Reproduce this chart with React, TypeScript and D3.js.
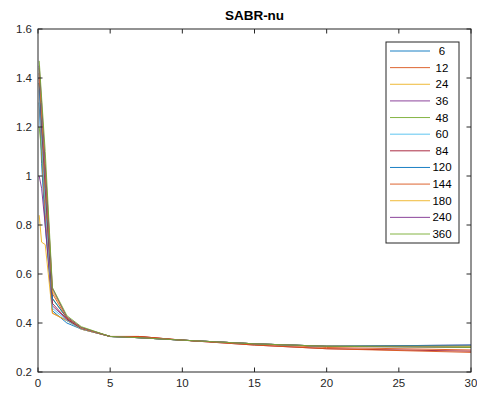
import React from "react";
import * as d3 from "d3";

const expiries = [0.083, 0.25, 0.5, 1, 2, 3, 5, 7, 10, 15, 20, 30];
const tenors = ["6", "12", "24", "36", "48", "60", "84", "120", "144", "180", "240", "360"];
const s6 = [1.30, 1.05, 0.80, 0.45, 0.40, 0.375, 0.345, 0.34, 0.33, 0.315, 0.305, 0.305];
const s12 = [1.38, 1.10, 0.85, 0.44, 0.41, 0.375, 0.345, 0.345, 0.33, 0.315, 0.30, 0.29];
const s24 = [0.84, 0.73, 0.72, 0.44, 0.41, 0.375, 0.345, 0.34, 0.33, 0.315, 0.305, 0.305];
const s36 = [1.00, 0.95, 0.80, 0.47, 0.415, 0.378, 0.345, 0.34, 0.33, 0.315, 0.305, 0.31];
const s48 = [1.20, 1.10, 0.90, 0.50, 0.42, 0.38, 0.345, 0.34, 0.33, 0.315, 0.305, 0.305];
const s60 = [1.35, 1.15, 0.90, 0.46, 0.41, 0.376, 0.345, 0.34, 0.33, 0.315, 0.305, 0.305];
const s84 = [1.40, 1.20, 0.95, 0.48, 0.415, 0.378, 0.345, 0.345, 0.33, 0.31, 0.295, 0.285];
const s120 = [1.38, 1.22, 1.00, 0.50, 0.42, 0.38, 0.345, 0.34, 0.33, 0.315, 0.305, 0.31];
const s144 = [1.42, 1.25, 1.00, 0.52, 0.42, 0.38, 0.345, 0.345, 0.33, 0.31, 0.295, 0.28];
const s180 = [1.44, 1.28, 1.05, 0.53, 0.425, 0.38, 0.345, 0.34, 0.33, 0.315, 0.305, 0.305];
const s240 = [1.45, 1.30, 1.05, 0.54, 0.425, 0.382, 0.345, 0.34, 0.33, 0.315, 0.305, 0.30];
const s360 = [1.47, 1.32, 1.10, 0.545, 0.43, 0.385, 0.345, 0.34, 0.33, 0.315, 0.305, 0.30];
const seriesValues = [s6, s12, s24, s36, s48, s60, s84, s120, s144, s180, s240, s360];
const palette = ["#0072BD", "#D95319", "#EDB120", "#7E2F8E", "#77AC30", "#4DBEEE", "#A2142F"];
const xTicks = [0, 5, 10, 15, 20, 25, 30];
const yTicks = [0.2, 0.4, 0.6, 0.8, 1.0, 1.2, 1.4, 1.6];
const title = "SABR-nu";

export default function App() {
  const W = 477, H = 394;
  const L = 38, R = 471, T = 29, B = 372;
  const x = d3.scaleLinear().domain([0, 30]).range([L, R]);
  const y = d3.scaleLinear().domain([0.2, 1.6]).range([B, T]);
  const line = d3.line<number>().x((_, i) => x(expiries[i])).y((d) => y(d));
  const font = "'Liberation Sans', Arial, sans-serif";
  const tick = 4.5;
  const axisColor = "#262626";
  const lgX = 386, lgY = 42, lgW = 73, lgH = 201;
  const rowH = (234 - 51) / 11;
  return (
    <svg width={W} height={H} style={{ position: "absolute", left: 0, top: 0, background: "#fff" }} fontFamily={font}>
      <rect x={0} y={0} width={W} height={H} fill="#fff" />
      <text x={(L + R) / 2} y={20} textAnchor="middle" fontSize={13.5} fontWeight="bold" fill="#000">{title}</text>
      <g clipPath="url(#clip)">
        <clipPath id="clip"><rect x={L} y={T} width={R - L} height={B - T} /></clipPath>
        {seriesValues.map((vals, k) => (
          <path key={k} d={line(vals) || ""} fill="none" stroke={palette[k % palette.length]} strokeWidth={0.9} />
        ))}
      </g>
      <rect x={L} y={T} width={R - L} height={B - T} fill="none" stroke={axisColor} strokeWidth={1} />
      {xTicks.map((t) => (
        <g key={"x" + t}>
          <line x1={x(t)} x2={x(t)} y1={B} y2={B - tick} stroke={axisColor} />
          <line x1={x(t)} x2={x(t)} y1={T} y2={T + tick} stroke={axisColor} />
          <text x={x(t)} y={B + 15} textAnchor="middle" fontSize={11.5} fill="#262626">{t}</text>
        </g>
      ))}
      {yTicks.map((t) => (
        <g key={"y" + t}>
          <line x1={L} x2={L + tick} y1={y(t)} y2={y(t)} stroke={axisColor} />
          <line x1={R} x2={R - tick} y1={y(t)} y2={y(t)} stroke={axisColor} />
          <text x={L - 6} y={y(t) + 4} textAnchor="end" fontSize={11.5} fill="#262626">{d3.format("")(+t.toFixed(1))}</text>
        </g>
      ))}
      <rect x={lgX} y={lgY} width={lgW} height={lgH} fill="#fff" stroke={axisColor} strokeWidth={1} />
      {tenors.map((name, k) => {
        const yy = 51 + k * rowH;
        return (
          <g key={name}>
            <line x1={390} x2={430} y1={yy} y2={yy} stroke={palette[k % palette.length]} strokeWidth={0.9} />
            <text x={442} y={yy + 4} textAnchor="middle" fontSize={11.5} fill="#000">{name}</text>
          </g>
        );
      })}
    </svg>
  );
}
